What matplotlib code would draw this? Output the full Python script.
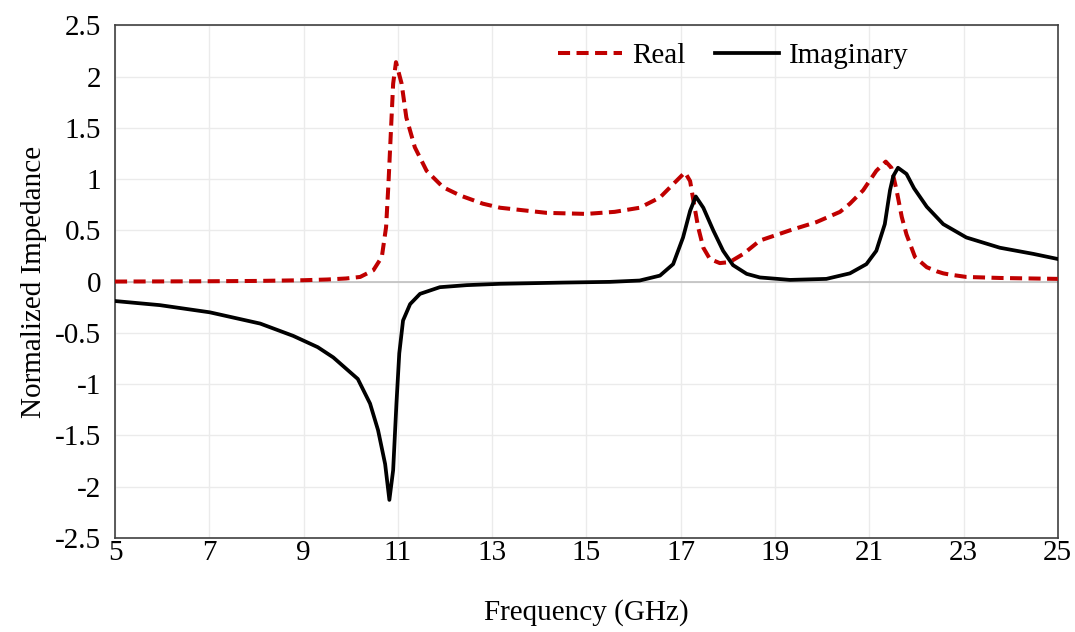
import numpy as np
import matplotlib
matplotlib.use('Agg')
import matplotlib.pyplot as plt

plt.rcParams['font.family'] = ['Liberation Serif', 'DejaVu Serif']
plt.rcParams['axes.unicode_minus'] = False

# values
real_freq = [5, 7, 8, 9, 9.5, 9.9, 10.2, 10.48, 10.66, 10.75, 10.8, 10.85, 10.9, 10.96,
             11.08, 11.18, 11.36, 11.61, 11.96, 12.32, 12.8, 13.17, 14.16, 15, 15.6, 16.13,
             16.56, 16.84, 17.09, 17.2, 17.27, 17.37, 17.48, 17.62, 17.83, 18.04, 18.33,
             18.68, 19.32, 19.88, 20.38, 20.59, 20.87, 21.15, 21.35, 21.47, 21.58, 21.69,
             21.79, 21.97, 22.22, 22.43, 22.57, 22.71, 23.06, 23.77, 25]
real_vals = [0, 0.003, 0.006, 0.013, 0.02, 0.03, 0.045, 0.11, 0.24, 0.53, 0.95, 1.44, 1.93, 2.14,
             1.93, 1.60, 1.31, 1.08, 0.92, 0.84, 0.76, 0.72, 0.67, 0.66, 0.68, 0.72,
             0.82, 0.95, 1.065, 0.98, 0.79, 0.53, 0.33, 0.22, 0.18, 0.19, 0.27,
             0.40, 0.50, 0.58, 0.68, 0.76, 0.89, 1.08, 1.17, 1.11, 0.89, 0.63,
             0.46, 0.24, 0.14, 0.10, 0.08, 0.068, 0.045, 0.035, 0.026]

imag_freq = [5, 5.95, 7.01, 8.08, 8.78, 9.3, 9.63, 10.15, 10.41, 10.58, 10.73, 10.82, 10.9,
             10.97, 11.03, 11.11, 11.26, 11.47, 11.89, 12.46, 13.17, 14.5, 15.5, 16.13, 16.56,
             16.84, 17.05, 17.2, 17.32, 17.48, 17.69, 17.9, 18.11, 18.4, 18.68, 19.32, 20.09,
             20.59, 20.94, 21.15, 21.33, 21.44, 21.51, 21.61, 21.79, 21.95, 22.22, 22.57,
             23.06, 23.77, 24.48, 25]
imag_vals = [-0.19, -0.23, -0.30, -0.41, -0.53, -0.64, -0.74, -0.95, -1.19, -1.45, -1.78, -2.13, -1.84,
             -1.19, -0.70, -0.38, -0.22, -0.12, -0.055, -0.035, -0.022, -0.01, -0.003, 0.01, 0.058,
             0.17, 0.43, 0.69, 0.83, 0.72, 0.50, 0.30, 0.16, 0.075, 0.04, 0.016, 0.026,
             0.08, 0.17, 0.30, 0.56, 0.89, 1.03, 1.11, 1.05, 0.91, 0.73, 0.56,
             0.43, 0.33, 0.27, 0.22]

x_ticks = list(range(5, 26, 2))
y_ticks = [-2.5, -2, -1.5, -1, -0.5, 0, 0.5, 1, 1.5, 2, 2.5]
y_tick_labels = ['-2.5', '-2', '-1.5', '-1', '-0.5', '0', '0.5', '1', '1.5', '2', '2.5']

fig = plt.figure(figsize=(10.75, 6.32), dpi=100)
ax = fig.add_axes([0.107, 0.149, 0.877, 0.811])

ax.axhline(0, color='#BFBFBF', lw=1.2, zorder=1)
ax.plot(real_freq, real_vals, color='#C00000', lw=2.9, ls=(0, (3, 1.6)), label='Real',
        zorder=3, dash_joinstyle='round')
ax.plot(imag_freq, imag_vals, color='black', lw=2.7, label='Imaginary', zorder=3,
        solid_joinstyle='round')

ax.set_xlim(5, 25)
ax.set_ylim(-2.5, 2.5)
ax.set_xticks(x_ticks)
ax.set_yticks(y_ticks)
ax.set_yticklabels(y_tick_labels)
ax.grid(True, color='#EBEBEB', lw=1)
ax.set_axisbelow(True)
ax.tick_params(length=0, labelsize=21)
ax.tick_params(axis='x', pad=1.5)
ax.tick_params(axis='y', pad=10)
for s in ax.spines.values():
    s.set_color('#404040')
    s.set_linewidth(1.2)

ax.set_xlabel('Frequency (GHz)', fontsize=21, labelpad=24)
ax.set_ylabel('Normalized Impedance', fontsize=21, labelpad=6)

ax.legend(loc='center', bbox_to_anchor=(0.656, 0.94), ncol=2, frameon=False,
          fontsize=21, handlelength=2.2, columnspacing=1.0, handletextpad=0.35)

fig.savefig('out.png', dpi=100)
